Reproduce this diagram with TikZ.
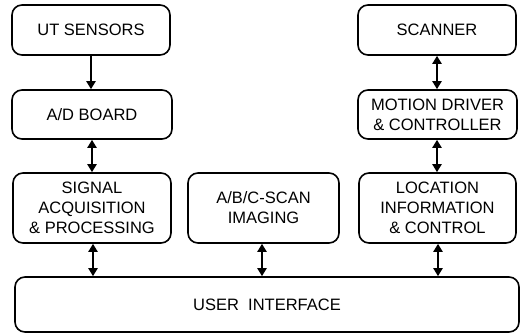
\documentclass[tikz,border=0pt]{standalone}
\usepackage{fontspec}
\setmainfont{Liberation Sans}
\usetikzlibrary{arrows.meta}
\begin{document}
\begin{tikzpicture}[x=1pt,y=-1pt,
  blk/.style={draw, line width=1.6pt, rounded corners=10pt, align=center,
    font=\fontsize{16.5}{20}\selectfont, inner sep=0pt},
  dbl/.style={line width=2.6pt, {Triangle[length=8pt,width=9pt]}-{Triangle[length=8pt,width=9pt]}},
  sgl/.style={line width=2.6pt, -{Triangle[length=8pt,width=9pt]}}]
\useasboundingbox (0,0) rectangle (522,335);
\node[blk, minimum width=158pt, minimum height=50pt] (ut) at (91,30) {UT SENSORS};
\node[blk, minimum width=160pt, minimum height=49pt] (ad) at (92,114.5) {A/D BOARD};
\node[blk, minimum width=158pt, minimum height=70pt] (sig) at (92,208) {SIGNAL\\ACQUISITION\\\& PROCESSING};
\node[blk, minimum width=151pt, minimum height=70pt] (abc) at (263.5,208) {A/B/C-SCAN\\IMAGING};
\node[blk, minimum width=157pt, minimum height=70pt] (loc) at (437.5,208) {LOCATION\\INFORMATION\\\& CONTROL};
\node[blk, minimum width=158pt, minimum height=50pt] (scn) at (437,30) {SCANNER};
\node[blk, minimum width=159pt, minimum height=49pt] (mot) at (437.5,114.5) {MOTION DRIVER\\\& CONTROLLER};
\node[blk, minimum width=504pt, minimum height=55pt] (ui) at (267,304.5) {USER\ \ INTERFACE};
\draw[sgl] (ut.south -| 91,0) -- (ad.north -| 91,0);
\draw[dbl] (ad.south -| 92,0) -- (sig.north -| 92,0);
\draw[dbl] (sig.south -| 93,0) -- (ui.north -| 93,0);
\draw[dbl] (abc.south -| 262,0) -- (ui.north -| 262,0);
\draw[dbl] (scn.south -| 437,0) -- (mot.north -| 437,0);
\draw[dbl] (mot.south -| 437,0) -- (loc.north -| 437,0);
\draw[dbl] (loc.south -| 438,0) -- (ui.north -| 438,0);
\end{tikzpicture}
\end{document}
